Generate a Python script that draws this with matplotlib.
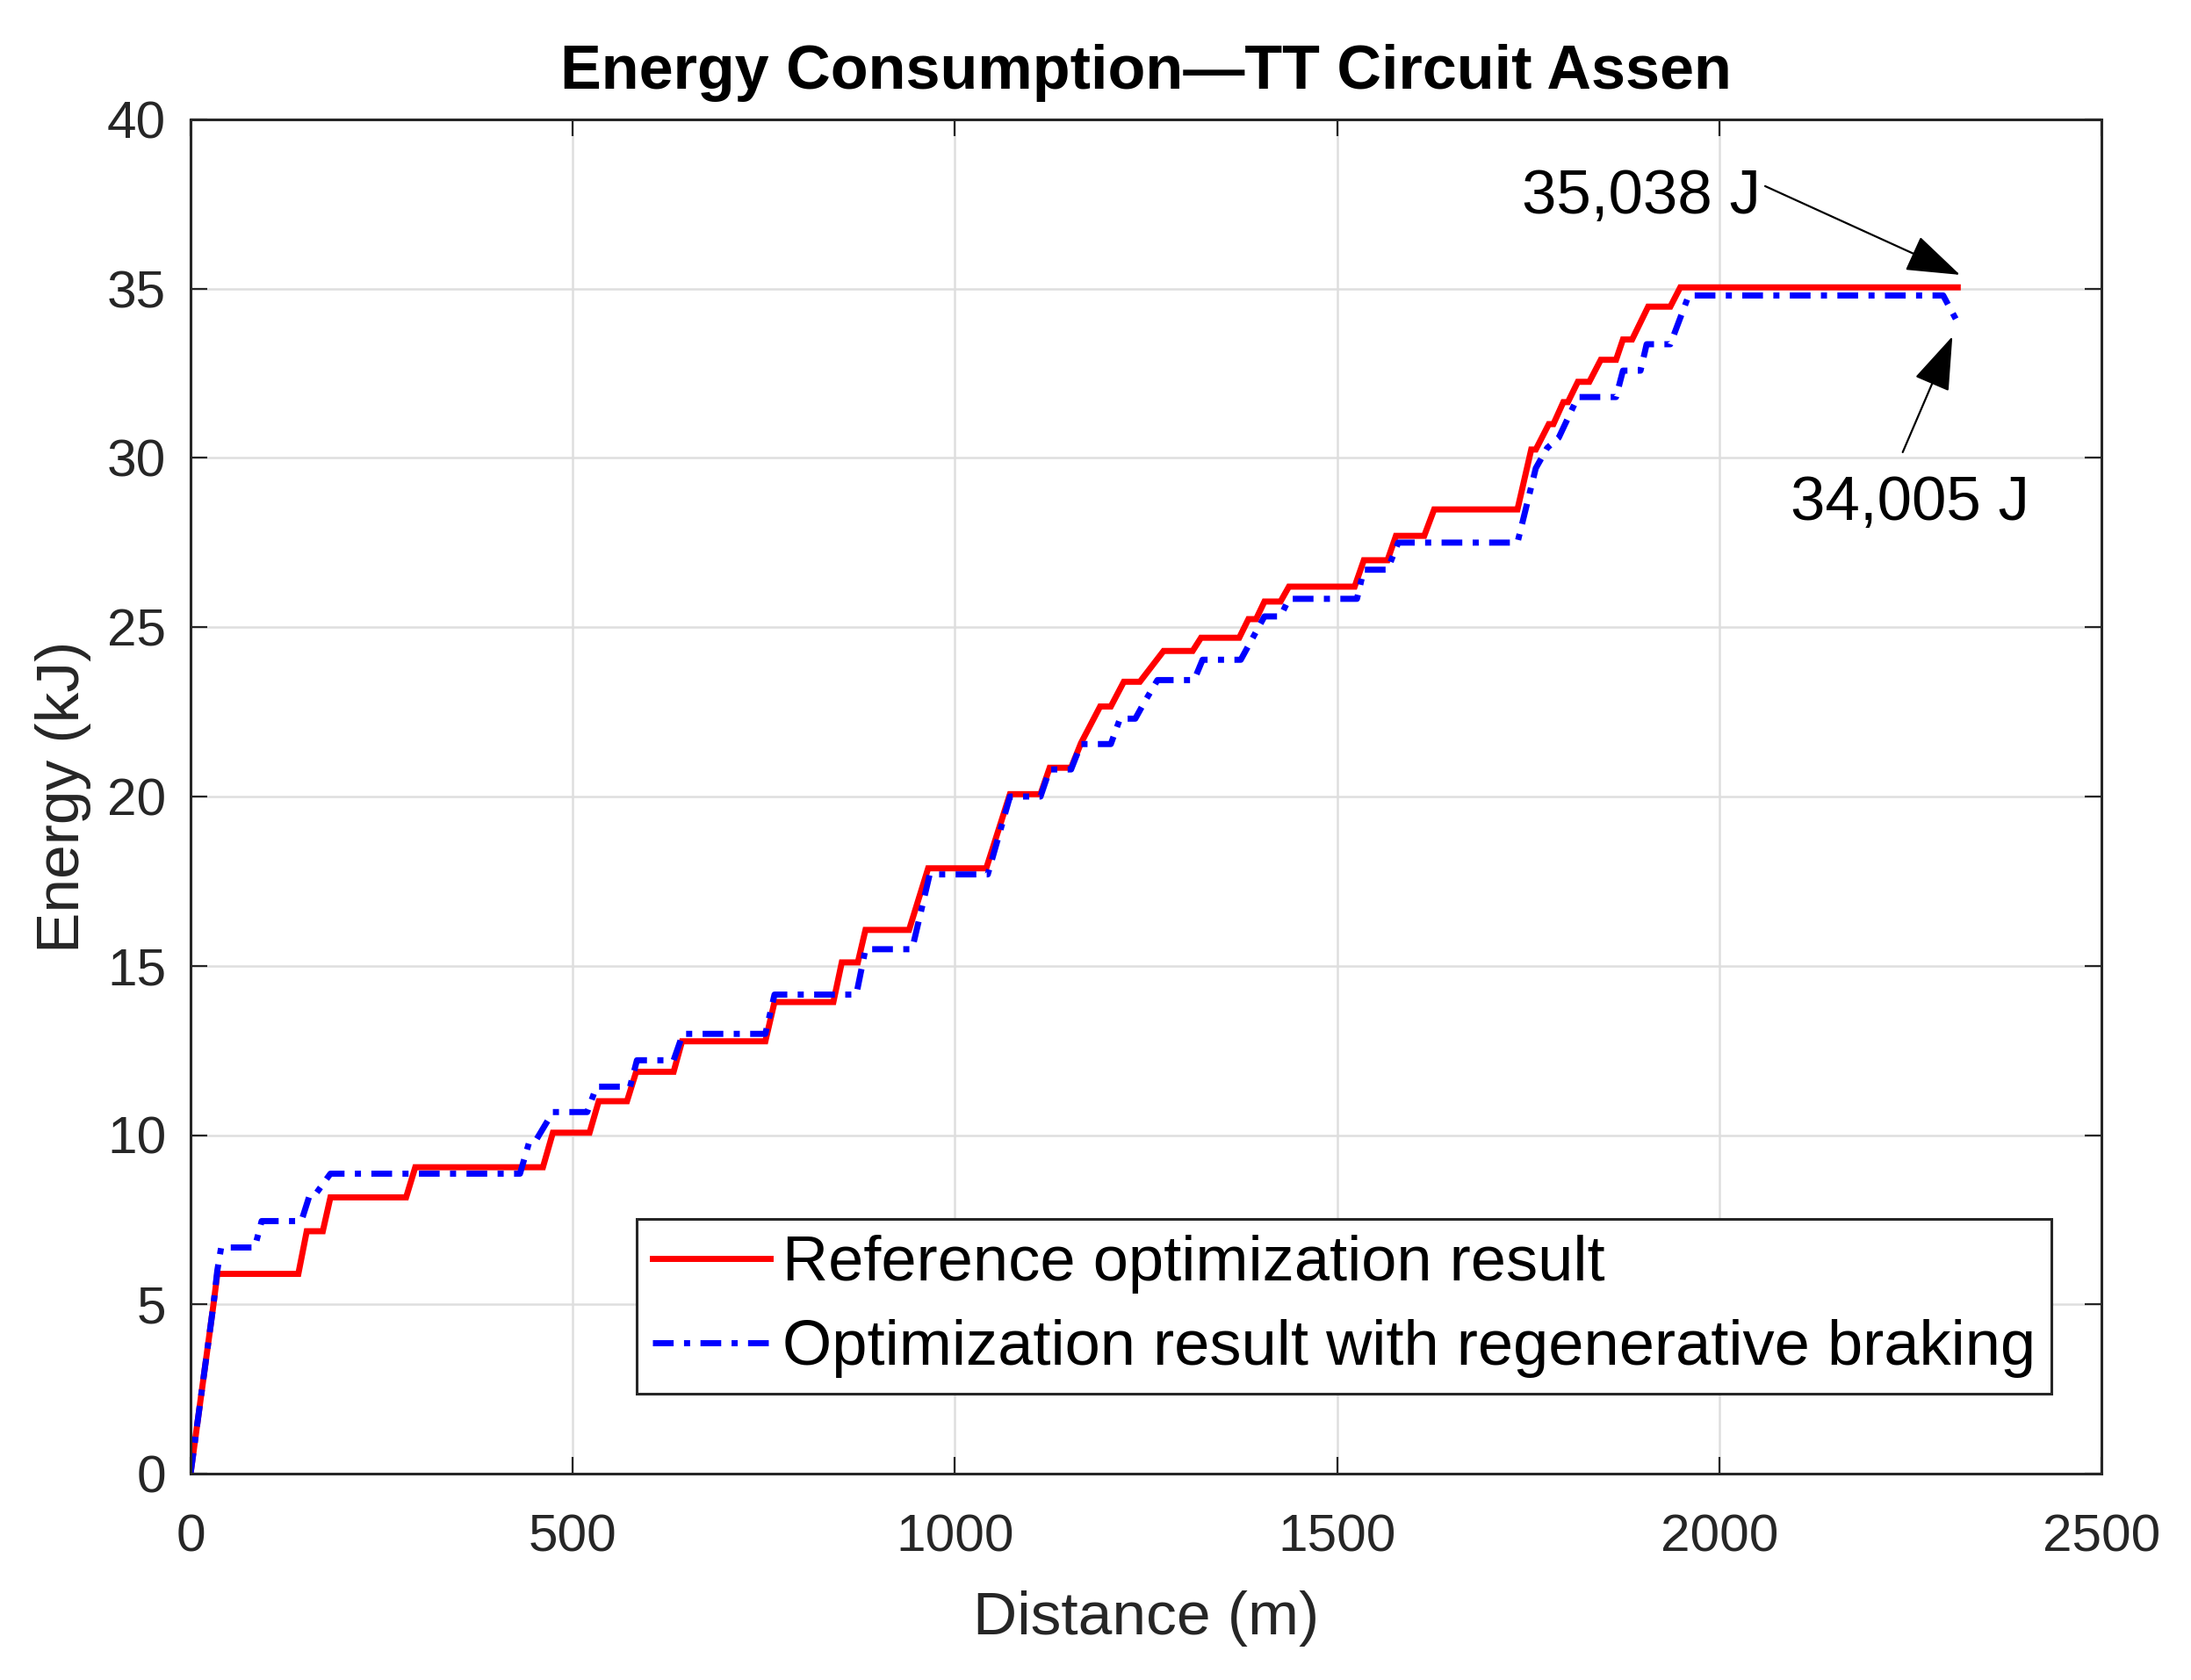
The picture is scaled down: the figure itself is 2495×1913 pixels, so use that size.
import matplotlib
matplotlib.use("Agg")
import matplotlib.pyplot as plt

plt.rcParams['font.family'] = ['Liberation Sans', 'DejaVu Sans']

# Reference optimization result (distance m, energy kJ)
ref_dist = [0, 30, 35, 141, 152, 173, 183, 282, 294, 461, 474, 522, 534, 571, 583,
            632, 643, 752, 764, 841, 852, 873, 883, 940, 965, 1041, 1072, 1112, 1124,
            1152, 1165, 1190, 1204, 1221, 1242, 1273, 1311, 1322, 1372, 1384, 1394,
            1405, 1426, 1437, 1523, 1535, 1566, 1577, 1614, 1627, 1736, 1754, 1760,
            1777, 1783, 1796, 1802, 1815, 1830, 1845, 1865, 1874, 1886, 1907, 1936,
            1949, 2312]
ref_energy = [0, 5.0, 5.9, 5.9, 7.16, 7.16, 8.16, 8.16, 9.05, 9.05, 10.07, 10.07, 11.0,
              11.0, 11.87, 11.87, 12.77, 12.77, 13.93, 13.93, 15.1, 15.1, 16.06, 16.06,
              17.88, 17.88, 20.07, 20.07, 20.85, 20.85, 21.58, 22.66, 22.66, 23.39,
              23.39, 24.3, 24.3, 24.69, 24.69, 25.24, 25.24, 25.76, 25.76, 26.2, 26.2,
              26.98, 26.98, 27.7, 27.7, 28.48, 28.48, 30.25, 30.25, 31.0, 31.0, 31.65,
              31.65, 32.25, 32.25, 32.9, 32.9, 33.5, 33.5, 34.47, 34.47, 35.04, 35.04]

# Optimization result with regenerative braking
reg_dist = [0, 30, 35, 40, 84, 93, 145, 156, 165, 183, 431, 443, 452, 474, 519, 531,
            575, 584, 632, 644, 752, 764, 871, 883, 944, 967, 1043, 1072, 1112, 1124,
            1152, 1165, 1204, 1216, 1236, 1247, 1265, 1313, 1324, 1374, 1405, 1426,
            1437, 1526, 1535, 1566, 1580, 1736, 1760, 1775, 1790, 1815, 1865, 1874,
            1897, 1905, 1936, 1960, 2293, 2312]
reg_energy = [0, 5.0, 6.0, 6.68, 6.68, 7.46, 7.46, 8.24, 8.3, 8.86, 8.86, 9.79, 9.85,
              10.68, 10.68, 11.43, 11.43, 12.21, 12.21, 12.99, 12.99, 14.15, 14.15,
              15.49, 15.49, 17.7, 17.7, 20.0, 20.0, 20.8, 20.8, 21.55, 21.55, 22.3,
              22.3, 22.75, 23.44, 23.44, 24.04, 24.04, 25.32, 25.32, 25.84, 25.84,
              26.7, 26.7, 27.5, 27.5, 29.7, 30.3, 30.6, 31.8, 31.8, 32.58, 32.58,
              33.36, 33.36, 34.8, 34.8, 34.0]

labels = ["Reference optimization result",
          "Optimization result with regenerative braking"]
title = "Energy Consumption\u2014TT Circuit Assen"
xticks = [0, 500, 1000, 1500, 2000, 2500]
yticks = [0, 5, 10, 15, 20, 25, 30, 35, 40]

W, H = 2495, 1913
fig = plt.figure(figsize=(W / 100, H / 100), dpi=100)
ax = fig.add_axes([217 / W, 1 - 1678 / H, 2176 / W, 1542 / H])

dark = '#262626'
ax.plot(ref_dist, ref_energy, color='#ff0000', lw=5.0, solid_joinstyle='miter',
        label=labels[0])
ax.plot(reg_dist, reg_energy, color='#0000ff', lw=5.0,
        linestyle=(0, (3.4, 1.7, 1.0, 1.7)), dash_capstyle='butt',
        label=labels[1])

ax.set_xlim(0, 2500)
ax.set_ylim(0, 40)
ax.set_xticks(xticks)
ax.set_yticks(yticks)
ax.grid(True, color='#dedede', lw=1.8)
ax.set_axisbelow(True)
for s in ax.spines.values():
    s.set_color(dark)
    s.set_linewidth(2.2)
ax.tick_params(direction='in', length=14, width=1.6, colors=dark,
               labelsize=43.5, top=True, right=True)
ax.tick_params(axis='x', pad=33)
ax.tick_params(axis='y', pad=20)
for lab in ax.get_xticklabels() + ax.get_yticklabels():
    lab.set_color('#262626')

ax.set_xlabel("Distance (m)", fontsize=50, color=dark)
ax.set_ylabel("Energy (kJ)", fontsize=50, color=dark)
ax.xaxis.label.set_va('center')
ax.yaxis.label.set_va('center')
ax.xaxis.set_label_coords(0.5, (1678 - 1843) / 1542)
ax.yaxis.set_label_coords((72 - 217) / 2176, 0.5)

ax.set_title(title, fontsize=50.5, fontweight='bold', pad=25, color='black')

leg = ax.legend(loc='lower right', bbox_to_anchor=(0.974, 0.059), fontsize=52,
                fancybox=False, framealpha=1, borderpad=0.25, labelspacing=0.4,
                handlelength=1.85, handletextpad=0.2, borderaxespad=0)
leg.get_frame().set_edgecolor(dark)
leg.get_frame().set_linewidth(2.2)

# Annotations
ax.text(2054, 37.7, "35,038 J", fontsize=51, ha='right', va='center', color='black')
ax.text(2250, 28.65, "34,005 J", fontsize=51, ha='center', va='center', color='black')
arrow = dict(arrowstyle='-|>,head_length=2.6,head_width=0.9', mutation_scale=15,
             lw=1.6, color='black', shrinkA=0, shrinkB=0)
ax.annotate('', xy=(2315, 35.41), xytext=(2060, 38.03), arrowprops=arrow)
ax.annotate('', xy=(2305, 33.59), xytext=(2240, 30.17), arrowprops=arrow)

fig.savefig("out.png", dpi=100, facecolor='white')
